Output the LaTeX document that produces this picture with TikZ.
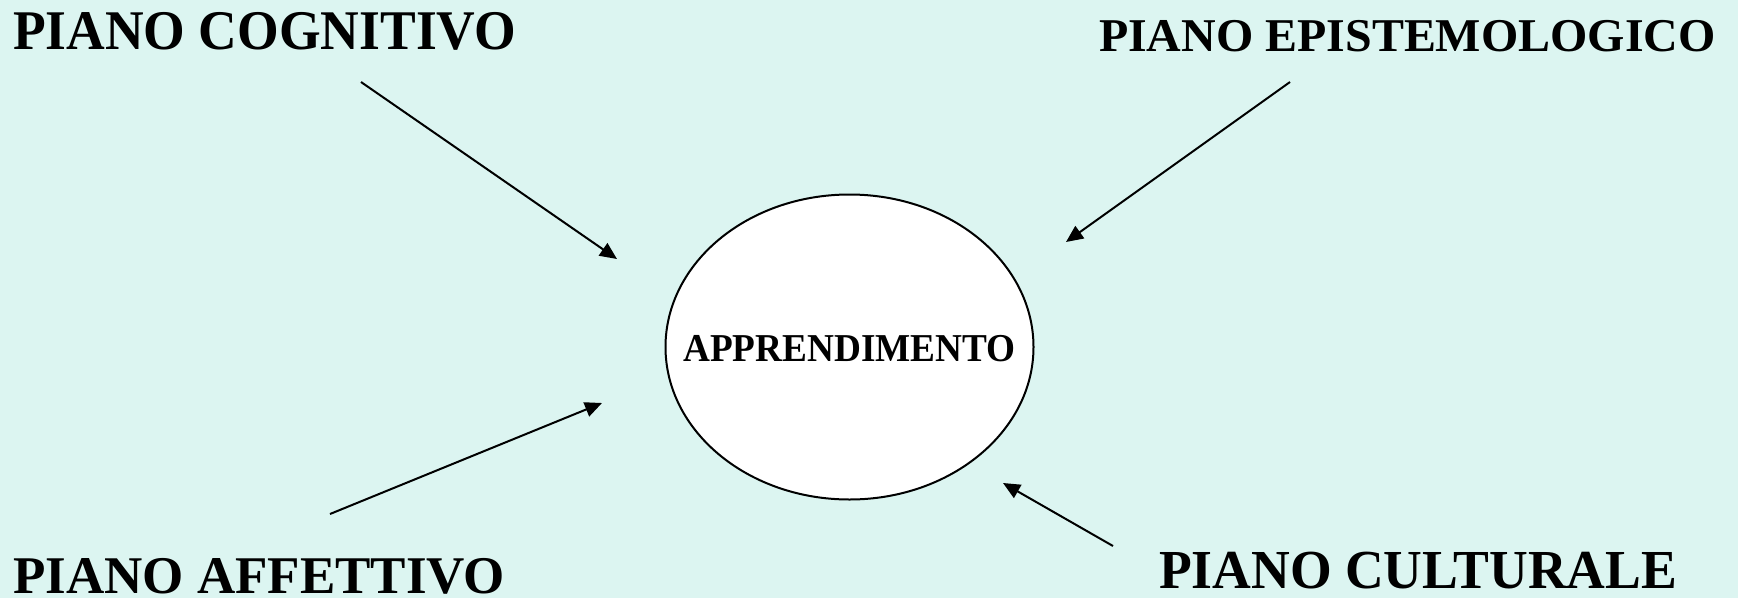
\documentclass[tikz,border=0pt]{standalone}
\usepackage{fontspec}
\setmainfont{Liberation Serif}
\usetikzlibrary{shapes.geometric,arrows.meta}
\definecolor{bgc}{RGB}{220,245,241}
\tikzset{
  lbl/.style={anchor=base west, inner sep=0pt, outer sep=0pt, font=\bfseries},
  conn/.style={line width=2pt, -{Triangle[length=17pt,width=15pt]}},
}
\begin{document}
\begin{tikzpicture}[x=1pt,y=-1pt]
\fill[bgc] (0,0) rectangle (1738,598);
\useasboundingbox (0,0) rectangle (1738,598);
\node[draw, ellipse, fill=white, line width=2pt, minimum width=368pt, minimum height=305pt, inner sep=0pt] (app) at (849.5,347) {};
\node[inner sep=0pt, font=\bfseries\fontsize{39.5}{42}\selectfont] (apptext) at (849.5,349) {\scalebox{0.943}[1]{APPRENDIMENTO}};
\node[lbl, font=\bfseries\fontsize{56}{60}\selectfont] (cog) at (13,49) {\scalebox{0.956}[1]{PIANO COGNITIVO}};
\node[lbl, font=\bfseries\fontsize{47}{50}\selectfont] (epi) at (1099,51) {\scalebox{1.02}[1]{PIANO EPISTEMOLOGICO}};
\node[lbl, font=\bfseries\fontsize{53}{56}\selectfont] (aff) at (13,593) {\scalebox{1.0}[1]{PIANO AFFETTIVO}};
\node[lbl, font=\bfseries\fontsize{55}{58}\selectfont] (cul) at (1159,588) {\scalebox{0.975}[1]{PIANO CULTURALE}};
\coordinate (cogS) at (361,82);
\coordinate (cogE) at (617,259);
\coordinate (epiS) at (1290,82);
\coordinate (epiE) at (1066,242);
\coordinate (affS) at (330,514);
\coordinate (affE) at (602,403);
\coordinate (culS) at (1113,546);
\coordinate (culE) at (1003,483);
\draw[conn] (cogS) -- (cogE);
\draw[conn] (epiS) -- (epiE);
\draw[conn] (affS) -- (affE);
\draw[conn] (culS) -- (culE);
\end{tikzpicture}
\end{document}
